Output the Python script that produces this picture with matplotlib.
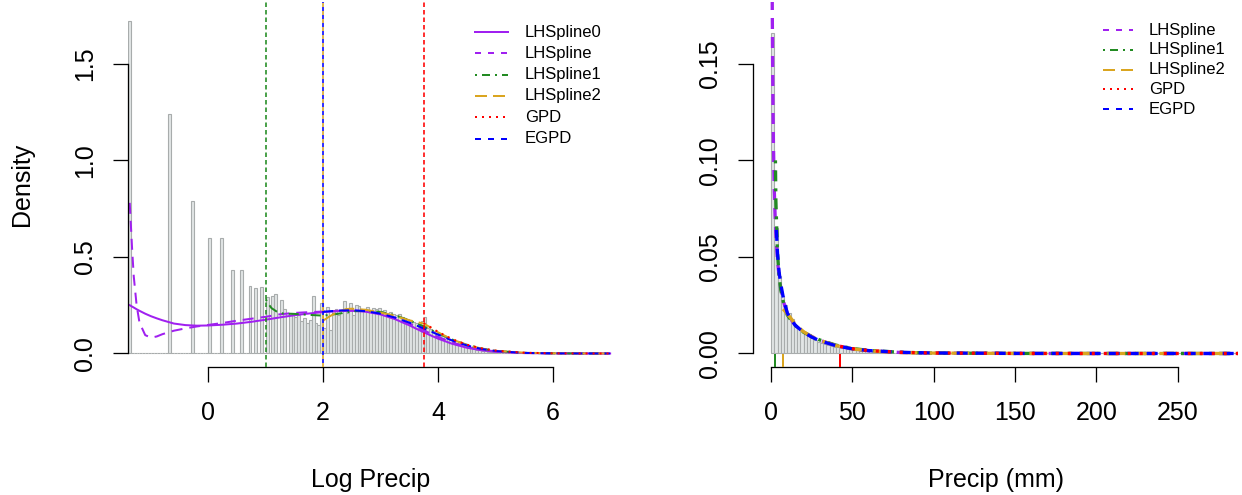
import numpy as np
import matplotlib
matplotlib.use('Agg')
import matplotlib.pyplot as plt
from matplotlib.lines import Line2D

plt.rcParams['font.family'] = ['Liberation Sans', 'DejaVu Sans']
plt.rcParams['lines.scale_dashes'] = False

# ---- histogram of log precipitation (bin width 0.05, first edge -1.4) ----
log_bin_start = -1.4
log_bin_width = 0.05
log_density = [
    1.72, 0, 0, 0, 0, 0, 0, 0, 0, 0,
    0, 0, 0, 0, 1.24, 0, 0, 0, 0, 0,
    0, 0, 0.79, 0, 0, 0, 0, 0, 0.60, 0,
    0, 0, 0.60, 0, 0, 0, 0.43, 0, 0, 0.43,
    0, 0, 0.35, 0, 0.34, 0, 0.345, 0, 0.29, 0,
    0.296, 0.31, 0, 0.275, 0.23, 0, 0.21, 0.20, 0.19, 0.20,
    0.17, 0.185, 0.16, 0.175, 0.296, 0.16, 0.15, 0.26, 0.13, 0.24,
    0.12, 0.22, 0.23, 0.20, 0.21, 0.27, 0.21, 0.26, 0.20, 0.25,
    0.245, 0.22, 0.23, 0.24, 0.22, 0.235, 0.23, 0.235, 0.22, 0.225,
    0.21, 0.215, 0.205, 0.20, 0.205, 0.19, 0.185, 0.18, 0.17, 0.165,
    0.16, 0.15, 0.17, 0.19, 0.13, 0.125, 0.115, 0.105, 0.10, 0.09,
    0.085, 0.075, 0.07, 0.062, 0.055, 0.048, 0.043, 0.037, 0.032, 0.028,
    0.024, 0.02, 0.017, 0.014, 0.012, 0.01, 0.008, 0.007, 0.006, 0.005,
    0.004, 0.003, 0.003, 0.002, 0.002, 0.001, 0.001, 0.001, 0.0008, 0.0005,
    0.0005, 0.0005,
]

# ---- histogram of precipitation in mm (bin width 2) ----
mm_bin_width = 2.0
mm_density = [
    0.166, 0.065, 0.040, 0.030, 0.025, 0.021, 0.018, 0.015, 0.013, 0.0115,
    0.010, 0.0088, 0.0078, 0.007, 0.0062, 0.0055, 0.005, 0.0045, 0.004, 0.0036,
    0.0033, 0.003, 0.0027, 0.0024, 0.0021, 0.0019, 0.0017, 0.0015, 0.0013, 0.0012,
    0.0011, 0.001, 0.0009, 0.0008, 0.0007, 0.0006, 0.00055, 0.0005, 0.00045, 0.0004,
    0.00035, 0.0003, 0.0003, 0.00025, 0.0002, 0.0002, 0.00015, 0.00015, 0.0001, 0.0001,
]
mm_empty_bins = 93

# ---- fitted densities on the log scale ----
lx_full = [-1.37, -1.33, -1.3, -1.25, -1.2, -1.1, -1.0, -0.9, -0.8, -0.6, -0.4, -0.2,
           0.0, 0.25, 0.5, 0.75, 1.0, 1.25, 1.5, 1.75, 2.0, 2.25, 2.5, 2.75, 3.0,
           3.25, 3.5, 3.75, 4.0, 4.25, 4.5, 4.75, 5.0, 5.5, 6.0, 6.5, 7.0]
lhs0_log = [0.25, 0.243, 0.238, 0.229, 0.221, 0.206, 0.193, 0.182, 0.172, 0.155, 0.147, 0.144,
            0.145, 0.149, 0.155, 0.164, 0.175, 0.187, 0.198, 0.207, 0.214, 0.219, 0.221, 0.216, 0.202,
            0.178, 0.146, 0.110, 0.077, 0.050, 0.030, 0.017, 0.009, 0.002, 0.0005, 0.0001, 0.0]
lhs_log = [0.78, 0.55, 0.40, 0.25, 0.16, 0.095, 0.082, 0.088, 0.10, 0.118, 0.13, 0.14,
           0.148, 0.158, 0.170, 0.180, 0.190, 0.203, 0.210, 0.214, 0.217, 0.221, 0.223, 0.219, 0.207,
           0.185, 0.155, 0.12, 0.086, 0.057, 0.035, 0.02, 0.011, 0.003, 0.0007, 0.0001, 0.0]

lx_lhs1 = [1.0, 1.05, 1.1, 1.2, 1.3, 1.5, 1.75, 2.0, 2.25, 2.5, 2.75, 3.0, 3.25, 3.5,
           3.75, 4.0, 4.25, 4.5, 4.75, 5.0, 5.5, 6.0, 6.5, 7.0]
lhs1_log = [0.28, 0.255, 0.235, 0.215, 0.207, 0.205, 0.2, 0.196, 0.205, 0.218, 0.222, 0.215, 0.198, 0.172,
            0.14, 0.105, 0.072, 0.045, 0.026, 0.014, 0.003, 0.0007, 0.0001, 0.0]

lx_lhs2 = [2.0, 2.1, 2.25, 2.4, 2.5, 2.75, 3.0, 3.25, 3.5, 3.75, 3.9, 4.0, 4.25, 4.5,
           4.75, 5.0, 5.5, 6.0, 6.5, 7.0]
lhs2_log = [0.17, 0.19, 0.215, 0.23, 0.232, 0.226, 0.212, 0.195, 0.172, 0.155, 0.13, 0.11, 0.072, 0.045,
            0.026, 0.014, 0.004, 0.001, 0.0002, 0.0]

lx_gpd = [3.75, 4.0, 4.25, 4.5, 4.75, 5.0, 5.5, 6.0, 6.5, 7.0]
gpd_log = [0.158, 0.112, 0.074, 0.046, 0.027, 0.015, 0.004, 0.001, 0.0002, 0.0]

lx_egpd = [2.0, 2.25, 2.5, 2.75, 3.0, 3.25, 3.5, 3.75, 4.0, 4.25, 4.5, 4.75, 5.0,
           5.5, 6.0, 6.5, 7.0]
egpd_log = [0.216, 0.222, 0.224, 0.219, 0.206, 0.186, 0.16, 0.13, 0.098, 0.067, 0.042, 0.024, 0.013,
            0.003, 0.0007, 0.0001, 0.0]

# ---- fitted densities on the mm scale ----
mx_lhs = [0.6, 0.8, 1.0, 1.25, 1.5, 2, 2.5, 3, 4, 5, 6, 8, 10, 12, 15, 20, 25, 30, 40,
          50, 60, 80, 100, 150, 200, 250, 287]
lhs_mm = [0.21, 0.176, 0.15, 0.125, 0.108, 0.085, 0.072, 0.062, 0.048, 0.04, 0.034, 0.026, 0.021,
          0.018, 0.0145, 0.011, 0.0088, 0.0068, 0.0041, 0.0024, 0.0014, 0.0005, 0.0002, 0.00002, 0, 0, 0]

mx_lhs1 = [2.72, 3, 4, 5, 6, 8, 10, 12, 15, 20, 25, 30, 40, 50, 60, 80, 100, 150, 200, 250, 287]
lhs1_mm = [0.1, 0.079, 0.052, 0.04, 0.033, 0.025, 0.02, 0.0175, 0.0145, 0.011, 0.0088, 0.007,
           0.0043, 0.0026, 0.0016, 0.0006, 0.0002, 0.00003, 0, 0, 0]

mx_lhs2 = [7.39, 8, 10, 12, 15, 20, 25, 30, 40, 50, 60, 80, 100, 150, 200, 250, 287]
lhs2_mm = [0.023, 0.0225, 0.0205, 0.0185, 0.015, 0.0113, 0.0087, 0.0068, 0.0041, 0.0024, 0.0014,
           0.0005, 0.0002, 0.00003, 0, 0, 0]

mx_gpd = [42.5, 50, 60, 80, 100, 150, 200, 250, 287]
gpd_mm = [0.0037, 0.0025, 0.0015, 0.0006, 0.00025, 0.00003, 0, 0, 0]

mx_egpd = [3.3, 4, 5, 6, 8, 10, 12, 15, 20, 25, 30, 40, 50, 60, 80, 100, 150, 200, 250, 287]
egpd_mm = [0.064, 0.052, 0.042, 0.036, 0.027, 0.021, 0.018, 0.0145, 0.011, 0.0085, 0.0066, 0.004,
           0.0024, 0.0015, 0.0006, 0.00025, 0.00004, 0, 0, 0]

# thresholds on the log scale
thresholds = [1.0, 2.0, 2.0, 3.75]

PURPLE, GREEN, GOLD, RED, BLUE = '#A020F0', '#228B22', '#DAA520', '#FF0000', '#0000FF'
HIST_FILL, HIST_EDGE = '#e2e6e6', '#a8acac'
W, H = 1242, 495
PT = 0.72  # points per pixel at 100 dpi

fig = plt.figure(figsize=(W / 100, H / 100), dpi=100)


def px_axes(x0, x1, y0, y1):
    return fig.add_axes([x0 / W, 1 - y1 / H, (x1 - x0) / W, (y1 - y0) / H])


def dash(*seq):
    return (0, tuple(s * PT for s in seq))


def style_axes(ax, xbounds, ybounds, xticks, yticks, ylabels):
    for side in ('top', 'right'):
        ax.spines[side].set_visible(False)
    ax.spines['left'].set_bounds(*ybounds)
    ax.spines['bottom'].set_bounds(*xbounds)
    for side in ('left', 'bottom'):
        ax.spines[side].set_linewidth(1.3 * PT)
    ax.set_xticks(xticks)
    ax.set_xticklabels([str(t) for t in xticks])
    ax.set_yticks(yticks)
    ax.set_yticklabels(ylabels, rotation=90, va='center')
    ax.tick_params(length=15 * PT, width=1.3 * PT, labelsize=18, direction='out')
    ax.tick_params(axis='x', pad=14)
    ax.tick_params(axis='y', pad=11.5)


# ================= left panel: log scale =================
ax1 = px_axes(128, 613, 2, 367)
edges = log_bin_start + log_bin_width * np.arange(len(log_density))
ax1.bar(edges, log_density, width=log_bin_width, align='edge', color=HIST_FILL,
        edgecolor=HIST_EDGE, linewidth=0.8, zorder=1)

lw = 2 * PT
ax1.plot(lx_full, lhs0_log, color=PURPLE, lw=lw, zorder=2)
ax1.plot(lx_full, lhs_log, color=PURPLE, lw=lw, ls=dash(11, 7), zorder=2)
ax1.plot(lx_lhs1, lhs1_log, color=GREEN, lw=lw, ls=dash(2, 5, 10, 5), zorder=2)
ax1.plot(lx_lhs2, lhs2_log, color=GOLD, lw=lw, ls=dash(14, 6), zorder=2)
ax1.plot(lx_egpd, egpd_log, color=BLUE, lw=lw, ls=dash(10, 6), zorder=2)
ax1.plot(lx_gpd, gpd_log, color=RED, lw=lw, ls=dash(2, 5), zorder=2)

vcolors = [GREEN, GOLD, BLUE, RED]
voffsets = [0, 0, 4, 0]
for t, c, off in zip(thresholds, vcolors, voffsets):
    ax1.axvline(t, color=c, lw=1.6 * PT, ls=(off * PT, (4 * PT, 4 * PT) if c in (GOLD, BLUE) else (4.5 * PT, 3 * PT)),
                zorder=3)

ax1.set_xlim(-1.4, 7.05)
ax1.set_ylim(-0.07, 1.82)
style_axes(ax1, (0, 6), (0, 1.5), [0, 2, 4, 6], [0, 0.5, 1.0, 1.5], ['0.0', '0.5', '1.0', '1.5'])

# ================= right panel: mm scale =================
ax2 = px_axes(753, 1238, 2, 367)
mm_all = np.concatenate([mm_density, np.zeros(mm_empty_bins)])
mm_edges = mm_bin_width * np.arange(len(mm_all))
ax2.bar(mm_edges, mm_all, width=mm_bin_width, align='edge', color=HIST_FILL,
        edgecolor=HIST_EDGE, linewidth=0.8, zorder=1)

lw2 = 3.3 * PT
ax2.plot(mx_lhs, lhs_mm, color=PURPLE, lw=lw2, ls=dash(11, 8), zorder=2)
ax2.plot(mx_lhs1, lhs1_mm, color=GREEN, lw=lw2, ls=dash(3, 7, 11, 7), zorder=2)
ax2.plot(mx_lhs2, lhs2_mm, color=GOLD, lw=lw2, ls=dash(18, 8), zorder=2)
ax2.plot(mx_egpd, egpd_mm, color=BLUE, lw=lw2, ls=dash(11, 8), zorder=2)
ax2.plot(mx_gpd, gpd_mm, color=RED, lw=lw2, ls=dash(3, 9), zorder=2)

# thresholds marked along the bottom
for t, c in zip(thresholds, vcolors):
    if c == BLUE:
        continue
    ax2.axvline(np.exp(t), ymin=0, ymax=0.032, color=c, lw=2 * PT, zorder=3)

ax2.set_xlim(-11.06, 287)
ax2.set_ylim(-0.007, 0.182)
style_axes(ax2, (0, 250), (0, 0.15), [0, 50, 100, 150, 200, 250], [0, 0.05, 0.10, 0.15],
           ['0.00', '0.05', '0.10', '0.15'])

# ================= legends =================
def draw_legend(entries, x0, x1, xt, y0, dy):
    for i, (label, color, ls) in enumerate(entries):
        y = 1 - (y0 + i * dy) / H
        fig.add_artist(Line2D([x0 / W, x1 / W], [y, y], transform=fig.transFigure,
                              color=color, lw=2 * PT, ls=ls))
        fig.text(xt / W, y, label, fontsize=12, ha='left', va='center')


draw_legend([('LHSpline0', PURPLE, '-'),
             ('LHSpline', PURPLE, dash(6, 7)),
             ('LHSpline1', GREEN, dash(2, 5, 8, 5)),
             ('LHSpline2', GOLD, dash(12, 6)),
             ('GPD', RED, dash(2, 5)),
             ('EGPD', BLUE, dash(6, 7))],
            475, 508, 525, 32, 21.3)

draw_legend([('LHSpline', PURPLE, dash(6, 7)),
             ('LHSpline1', GREEN, dash(2, 5, 8, 5)),
             ('LHSpline2', GOLD, dash(12, 6)),
             ('GPD', RED, dash(2, 5)),
             ('EGPD', BLUE, dash(6, 7))],
            1103, 1133, 1149, 30, 19.8)

# ================= axis titles =================
fig.text(370.5 / W, 1 - 487 / H, 'Log Precip', fontsize=18, ha='center', va='baseline')
fig.text(995.5 / W, 1 - 487 / H, 'Precip (mm)', fontsize=18, ha='center', va='baseline')
fig.text(22 / W, 1 - 184 / H, 'Density', fontsize=18, ha='center', va='center', rotation=90)

fig.savefig('out.png', dpi=100)
